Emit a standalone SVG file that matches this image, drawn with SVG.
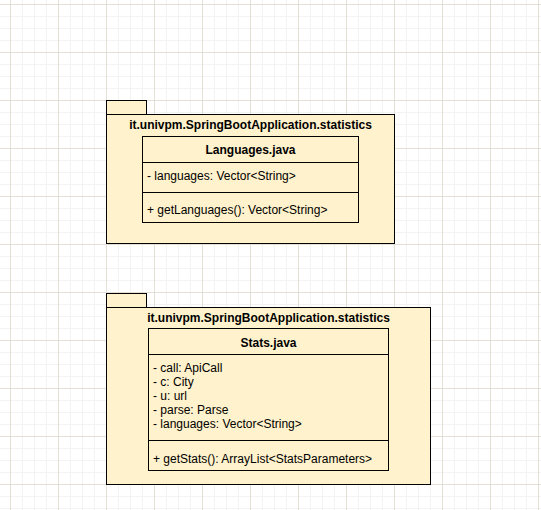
<svg xmlns="http://www.w3.org/2000/svg" width="541" height="510" viewBox="0 0 541 510">
  <defs>
    <pattern id="minor" x="10" y="4" width="12" height="12" patternUnits="userSpaceOnUse">
      <path d="M0 0.5H12M0.5 0V12" fill="none" stroke="#f3f3f3" stroke-width="1"/>
    </pattern>
    <pattern id="major" x="10" y="4" width="48" height="48" patternUnits="userSpaceOnUse">
      <path d="M0 0.5H48M0.5 0V48" fill="none" stroke="#e4e0d8" stroke-width="1"/>
    </pattern>
  </defs>
  <style>
    .box { fill: #fff2cc; stroke: #000; stroke-width: 1; }
    .line { stroke: #000; stroke-width: 1; fill: none; }
    text { font-family: "Liberation Sans", Arial, sans-serif; font-size: 12px; fill: #000; }
    .bold { font-weight: bold; }
    .mid { text-anchor: middle; }
  </style>

  <!-- canvas grid -->
  <rect width="541" height="510" fill="#ffffff"/>
  <rect width="541" height="510" fill="url(#minor)"/>
  <rect width="541" height="510" fill="url(#major)"/>

  <!-- package holding Languages.java -->
  <g id="pkg-languages">
    <rect class="box" x="106.5" y="100.5" width="40" height="14"/>
    <rect class="box" x="106.5" y="114.5" width="288" height="129"/>
    <text class="bold mid" x="250.5" y="128.5">it.univpm.SpringBootApplication.statistics</text>
  </g>
  <g id="class-languages">
    <rect class="box" x="142.5" y="136.5" width="216" height="86"/>
    <line class="line" x1="142.5" y1="162.5" x2="358.5" y2="162.5"/>
    <line class="line" x1="142.5" y1="192.5" x2="358.5" y2="192.5"/>
    <text class="bold mid" x="250.5" y="154">Languages.java</text>
    <text x="147" y="179.5">- languages: Vector&lt;String&gt;</text>
    <text x="147" y="213.5">+ getLanguages(): Vector&lt;String&gt;</text>
  </g>

  <!-- package holding Stats.java -->
  <g id="pkg-stats">
    <rect class="box" x="106.5" y="293.5" width="40" height="14"/>
    <rect class="box" x="106.5" y="307.5" width="324" height="177"/>
    <text class="bold mid" x="268.5" y="321.5">it.univpm.SpringBootApplication.statistics</text>
  </g>
  <g id="class-stats">
    <rect class="box" x="148.5" y="328.5" width="240" height="142"/>
    <line class="line" x1="148.5" y1="354.5" x2="388.5" y2="354.5"/>
    <line class="line" x1="148.5" y1="440.5" x2="388.5" y2="440.5"/>
    <text class="bold mid" x="268.5" y="346.5">Stats.java</text>
    <text x="153" y="372">- call: ApiCall</text>
    <text x="153" y="386">- c: City</text>
    <text x="153" y="400">- u: url</text>
    <text x="153" y="414">- parse: Parse</text>
    <text x="153" y="428">- languages: Vector&lt;String&gt;</text>
    <text x="153" y="462.5">+ getStats(): ArrayList&lt;StatsParameters&gt;</text>
  </g>

  <g id="connectors"/>
</svg>
